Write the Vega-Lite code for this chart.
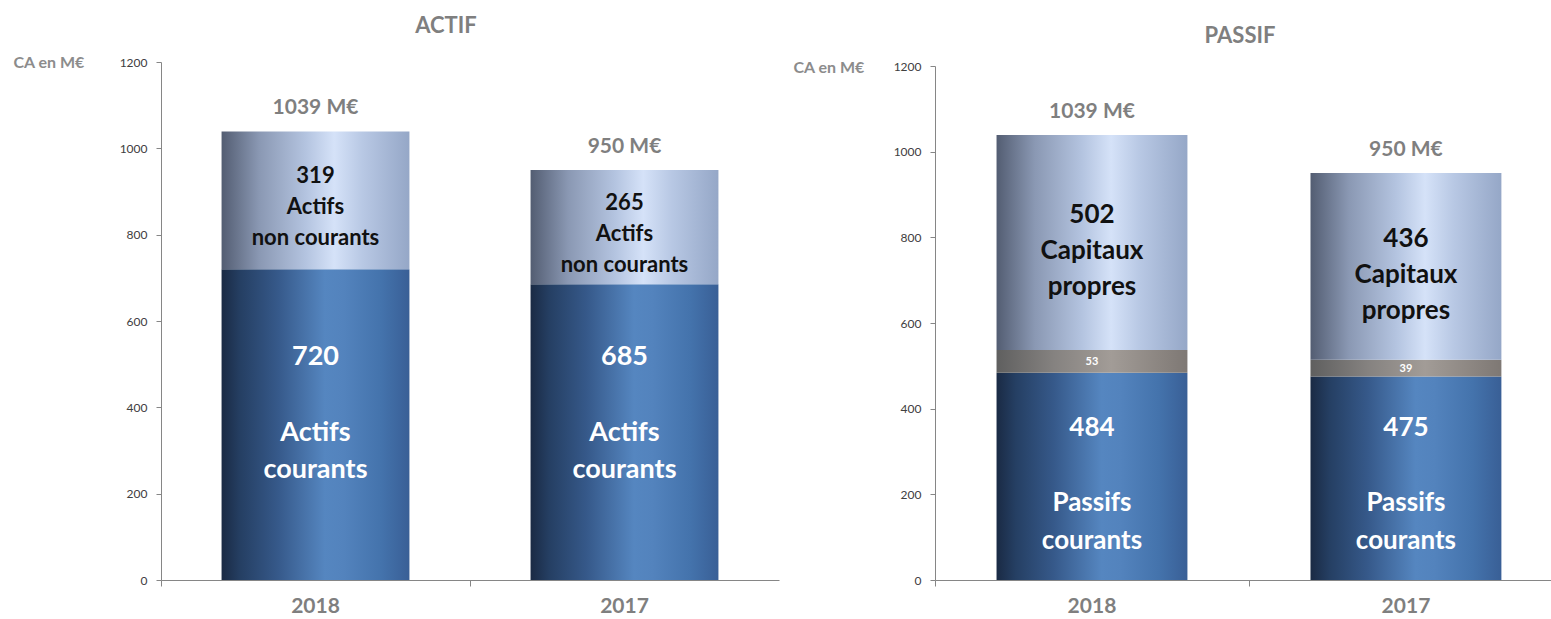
{
  "$schema": "https://vega.github.io/schema/vega-lite/v6.json",
  "padding": {"left": 13, "top": 15, "right": 0, "bottom": 0},
  "background": "white",
  "config": {"view": {"stroke": null}, "font": "Lato", "axis": {"grid": false}},
  "datasets": {
    "actif": [
      {"year": "2018", "segment": "Actifs courants", "order": 1, "value": 720, "label": "Actifs\ncourants"},
      {"year": "2018", "segment": "Actifs non courants", "order": 2, "value": 319, "label": "Actifs\nnon courants"},
      {"year": "2017", "segment": "Actifs courants", "order": 1, "value": 685, "label": "Actifs\ncourants"},
      {"year": "2017", "segment": "Actifs non courants", "order": 2, "value": 265, "label": "Actifs\nnon courants"}
    ],
    "actifTotal": [
      {"year": "2018", "total": 1039, "label": "1039 M€"},
      {"year": "2017", "total": 950, "label": "950 M€"}
    ],
    "passif": [
      {"year": "2018", "segment": "Passifs courants", "order": 1, "value": 484, "label": "Passifs\ncourants"},
      {"year": "2018", "segment": "Passifs non courants", "order": 2, "value": 53, "label": ""},
      {"year": "2018", "segment": "Capitaux propres", "order": 3, "value": 502, "label": "Capitaux\npropres"},
      {"year": "2017", "segment": "Passifs courants", "order": 1, "value": 475, "label": "Passifs\ncourants"},
      {"year": "2017", "segment": "Passifs non courants", "order": 2, "value": 39, "label": ""},
      {"year": "2017", "segment": "Capitaux propres", "order": 3, "value": 436, "label": "Capitaux\npropres"}
    ],
    "passifTotal": [
      {"year": "2018", "total": 1039, "label": "1039 M€"},
      {"year": "2017", "total": 950, "label": "950 M€"}
    ]
  },
  "spacing": 156,
  "bounds": "flush",
  "hconcat": [
    {
      "width": 618,
      "height": 518,
      "title": {"text": "ACTIF", "fontSize": 22, "fontWeight": "bold", "color": "#7f7f7f", "font": "Lato", "anchor": "middle", "frame": "group", "dx": -24, "offset": -1, "baseline": "alphabetic"},
      "encoding": {
        "x": {
          "field": "year", "type": "nominal", "sort": ["2018", "2017"], "title": null,
          "scale": {"paddingInner": 0, "paddingOuter": 0},
          "axis": {"domainColor": "#868686", "tickColor": "#868686", "bandPosition": 0, "tickSize": 6, "labelFontSize": 21, "labelFontWeight": "bold", "labelColor": "#7f7f7f", "labelPadding": 9, "labelAngle": 0, "labelFont": "Lato"}
        }
      },
      "layer": [
        {
          "data": {"name": "actif"},
          "transform": [
            {"stack": "value", "groupby": ["year"], "sort": [{"field": "order", "order": "ascending"}], "as": ["v0", "v1"]},
            {"filter": "datum.order == 1"}
          ],
          "mark": {"type": "bar", "width": {"band": 0.608}, "fill": {"gradient": "linear", "x1": 0, "x2": 1, "y1": 0, "y2": 0, "stops": [
            {"offset": 0, "color": "#1a2a44"}, {"offset": 0.1, "color": "#253f63"}, {"offset": 0.3, "color": "#36598a"},
            {"offset": 0.55, "color": "#5586c0"}, {"offset": 0.65, "color": "#5383bd"}, {"offset": 0.85, "color": "#4473ac"}, {"offset": 1, "color": "#395f96"}]}},
          "encoding": {
            "y": {"field": "v0", "type": "quantitative", "title": "CA en M€",
              "scale": {"domain": [0, 1200]},
              "axis": {"values": [0, 200, 400, 600, 800, 1000, 1200], "format": "d", "domainColor": "#868686", "tickColor": "#868686", "tickSize": 5, "labelFontSize": 12, "labelColor": "#404040", "labelPadding": 9, "labelFont": "Lato", "grid": false,
                "titleAngle": 0, "titleAlign": "left", "titleBaseline": "middle", "titleX": -148, "titleY": 0, "titleFontSize": 16, "titleFontWeight": "bold", "titleColor": "#8c8c8c", "titleFont": "Lato"}},
            "y2": {"field": "v1"}
          }
        },
        {
          "data": {"name": "actif"},
          "transform": [
            {"stack": "value", "groupby": ["year"], "sort": [{"field": "order", "order": "ascending"}], "as": ["v0", "v1"]},
            {"filter": "datum.order == 2"}
          ],
          "mark": {"type": "bar", "width": {"band": 0.608}, "fill": {"gradient": "linear", "x1": 0, "x2": 1, "y1": 0, "y2": 0, "stops": [
            {"offset": 0, "color": "#535d72"}, {"offset": 0.2, "color": "#8a98b3"}, {"offset": 0.45, "color": "#b4c4e0"},
            {"offset": 0.6, "color": "#d5e2f8"}, {"offset": 0.75, "color": "#b8c8e4"}, {"offset": 1, "color": "#95a7c7"}]}},
          "encoding": {
            "y": {"field": "v0", "type": "quantitative", "title": "CA en M€"},
            "y2": {"field": "v1"}
          }
        },
        {
          "data": {"name": "actif"},
          "transform": [
            {"stack": "value", "groupby": ["year"], "sort": [{"field": "order", "order": "ascending"}], "as": ["v0", "v1"]},
            {"filter": "datum.order == 1"}
          ],
          "mark": {"type": "text", "dy": -223, "fontSize": 27, "fontWeight": "bold", "color": "white", "baseline": "middle", "font": "Lato"},
          "encoding": {
            "y": {"field": "v0", "type": "quantitative", "title": "CA en M€"},
            "text": {"field": "value", "type": "quantitative"}
          }
        },
        {
          "data": {"name": "actif"},
          "transform": [
            {"stack": "value", "groupby": ["year"], "sort": [{"field": "order", "order": "ascending"}], "as": ["v0", "v1"]},
            {"filter": "datum.order == 1"}
          ],
          "mark": {"type": "text", "dy": -147, "fontSize": 27, "fontWeight": "bold", "color": "white", "baseline": "middle", "lineBreak": "\n", "lineHeight": 37, "font": "Lato"},
          "encoding": {
            "y": {"field": "v0", "type": "quantitative", "title": "CA en M€"},
            "text": {"field": "label", "type": "nominal"}
          }
        },
        {
          "data": {"name": "actif"},
          "transform": [
            {"stack": "value", "groupby": ["year"], "sort": [{"field": "order", "order": "ascending"}], "as": ["v0", "v1"]},
            {"filter": "datum.order == 2"},
            {"fold": ["v0", "v1"], "as": ["edge", "pos"]},
            {"aggregate": [{"op": "mean", "field": "pos", "as": "mid"}], "groupby": ["year", "order", "value", "label"]}
          ],
          "mark": {"type": "text", "dy": -24, "fontSize": 22, "fontWeight": "bold", "color": "#111111", "baseline": "middle", "font": "Lato"},
          "encoding": {
            "y": {"field": "mid", "type": "quantitative", "title": "CA en M€"},
            "text": {"field": "value", "type": "quantitative"}
          }
        },
        {
          "data": {"name": "actif"},
          "transform": [
            {"stack": "value", "groupby": ["year"], "sort": [{"field": "order", "order": "ascending"}], "as": ["v0", "v1"]},
            {"filter": "datum.order == 2"},
            {"fold": ["v0", "v1"], "as": ["edge", "pos"]},
            {"aggregate": [{"op": "mean", "field": "pos", "as": "mid"}], "groupby": ["year", "order", "value", "label"]}
          ],
          "mark": {"type": "text", "dy": 6.5, "fontSize": 22, "fontWeight": "bold", "color": "#111111", "baseline": "middle", "lineBreak": "\n", "lineHeight": 31, "font": "Lato"},
          "encoding": {
            "y": {"field": "mid", "type": "quantitative", "title": "CA en M€"},
            "text": {"field": "label", "type": "nominal"}
          }
        },
        {
          "data": {"name": "actifTotal"},
          "mark": {"type": "text", "dy": -23, "fontSize": 21, "fontWeight": "bold", "color": "#7f7f7f", "baseline": "middle", "font": "Lato"},
          "encoding": {
            "y": {"field": "total", "type": "quantitative", "title": "CA en M€"},
            "text": {"field": "label", "type": "nominal"}
          }
        }
      ]
    },
    {
      "width": 616,
      "height": 518,
      "title": {"text": "PASSIF", "fontSize": 22, "fontWeight": "bold", "color": "#7f7f7f", "font": "Lato", "anchor": "middle", "frame": "group", "dx": -3, "offset": -6, "baseline": "alphabetic"},
      "encoding": {
        "x": {
          "field": "year", "type": "nominal", "sort": ["2018", "2017"], "title": null,
          "scale": {"paddingInner": 0.076, "paddingOuter": 0.019, "align": 1},
          "axis": {"domainColor": "#868686", "tickColor": "#868686", "bandPosition": -0.041, "tickSize": 6, "labelFontSize": 21, "labelFontWeight": "bold", "labelColor": "#7f7f7f", "labelPadding": 9, "labelAngle": 0, "labelFont": "Lato"}
        }
      },
      "layer": [
        {
          "data": {"name": "passif"},
          "transform": [
            {"stack": "value", "groupby": ["year"], "sort": [{"field": "order", "order": "ascending"}], "as": ["v0", "v1"]},
            {"filter": "datum.order == 1"}
          ],
          "mark": {"type": "bar", "width": {"band": 0.658}, "fill": {"gradient": "linear", "x1": 0, "x2": 1, "y1": 0, "y2": 0, "stops": [
            {"offset": 0, "color": "#1a2a44"}, {"offset": 0.1, "color": "#253f63"}, {"offset": 0.3, "color": "#36598a"},
            {"offset": 0.55, "color": "#5586c0"}, {"offset": 0.65, "color": "#5383bd"}, {"offset": 0.85, "color": "#4473ac"}, {"offset": 1, "color": "#395f96"}]}},
          "encoding": {
            "y": {"field": "v0", "type": "quantitative", "title": "CA en M€",
              "scale": {"domain": [0, 1200], "range": [518, 4]},
              "axis": {"values": [0, 200, 400, 600, 800, 1000, 1200], "format": "d", "domainColor": "#868686", "tickColor": "#868686", "tickSize": 5, "labelFontSize": 12, "labelColor": "#404040", "labelPadding": 9, "labelFont": "Lato", "grid": false,
                "titleAngle": 0, "titleAlign": "left", "titleBaseline": "middle", "titleX": -142, "titleY": 5, "titleFontSize": 16, "titleFontWeight": "bold", "titleColor": "#8c8c8c", "titleFont": "Lato"}},
            "y2": {"field": "v1"}
          }
        },
        {
          "data": {"name": "passif"},
          "transform": [
            {"stack": "value", "groupby": ["year"], "sort": [{"field": "order", "order": "ascending"}], "as": ["v0", "v1"]},
            {"filter": "datum.order == 2"}
          ],
          "mark": {"type": "bar", "width": {"band": 0.658}, "fill": {"gradient": "linear", "x1": 0, "x2": 1, "y1": 0, "y2": 0, "stops": [
            {"offset": 0, "color": "#5f5f5f"}, {"offset": 0.3, "color": "#858280"}, {"offset": 0.6, "color": "#a29c97"}, {"offset": 1, "color": "#7e7874"}]}},
          "encoding": {
            "y": {"field": "v0", "type": "quantitative", "title": "CA en M€"},
            "y2": {"field": "v1"}
          }
        },
        {
          "data": {"name": "passif"},
          "transform": [
            {"stack": "value", "groupby": ["year"], "sort": [{"field": "order", "order": "ascending"}], "as": ["v0", "v1"]},
            {"filter": "datum.order == 3"}
          ],
          "mark": {"type": "bar", "width": {"band": 0.658}, "fill": {"gradient": "linear", "x1": 0, "x2": 1, "y1": 0, "y2": 0, "stops": [
            {"offset": 0, "color": "#535d72"}, {"offset": 0.2, "color": "#8a98b3"}, {"offset": 0.45, "color": "#b4c4e0"},
            {"offset": 0.6, "color": "#d5e2f8"}, {"offset": 0.75, "color": "#b8c8e4"}, {"offset": 1, "color": "#95a7c7"}]}},
          "encoding": {
            "y": {"field": "v0", "type": "quantitative", "title": "CA en M€"},
            "y2": {"field": "v1"}
          }
        },
        {
          "data": {"name": "passif"},
          "transform": [
            {"stack": "value", "groupby": ["year"], "sort": [{"field": "order", "order": "ascending"}], "as": ["v0", "v1"]},
            {"filter": "datum.order == 1"}
          ],
          "mark": {"type": "text", "dy": -152, "fontSize": 26, "fontWeight": "bold", "color": "white", "baseline": "middle", "font": "Lato"},
          "encoding": {
            "y": {"field": "v0", "type": "quantitative", "title": "CA en M€"},
            "text": {"field": "value", "type": "quantitative"}
          }
        },
        {
          "data": {"name": "passif"},
          "transform": [
            {"stack": "value", "groupby": ["year"], "sort": [{"field": "order", "order": "ascending"}], "as": ["v0", "v1"]},
            {"filter": "datum.order == 1"}
          ],
          "mark": {"type": "text", "dy": -77, "fontSize": 26, "fontWeight": "bold", "color": "white", "baseline": "middle", "lineBreak": "\n", "lineHeight": 37.5, "font": "Lato"},
          "encoding": {
            "y": {"field": "v0", "type": "quantitative", "title": "CA en M€"},
            "text": {"field": "label", "type": "nominal"}
          }
        },
        {
          "data": {"name": "passif"},
          "transform": [
            {"stack": "value", "groupby": ["year"], "sort": [{"field": "order", "order": "ascending"}], "as": ["v0", "v1"]},
            {"filter": "datum.order == 2"},
            {"fold": ["v0", "v1"], "as": ["edge", "pos"]},
            {"aggregate": [{"op": "mean", "field": "pos", "as": "mid"}], "groupby": ["year", "order", "value"]}
          ],
          "mark": {"type": "text", "dy": 1, "fontSize": 11, "fontWeight": "bold", "color": "white", "baseline": "middle", "font": "Lato"},
          "encoding": {
            "y": {"field": "mid", "type": "quantitative", "title": "CA en M€"},
            "text": {"field": "value", "type": "quantitative"}
          }
        },
        {
          "data": {"name": "passif"},
          "transform": [
            {"stack": "value", "groupby": ["year"], "sort": [{"field": "order", "order": "ascending"}], "as": ["v0", "v1"]},
            {"filter": "datum.order == 3"},
            {"fold": ["v0", "v1"], "as": ["edge", "pos"]},
            {"aggregate": [{"op": "mean", "field": "pos", "as": "mid"}], "groupby": ["year", "order", "value", "label"]}
          ],
          "mark": {"type": "text", "dy": -27, "fontSize": 26, "fontWeight": "bold", "color": "#111111", "baseline": "middle", "font": "Lato"},
          "encoding": {
            "y": {"field": "mid", "type": "quantitative", "title": "CA en M€"},
            "text": {"field": "value", "type": "quantitative"}
          }
        },
        {
          "data": {"name": "passif"},
          "transform": [
            {"stack": "value", "groupby": ["year"], "sort": [{"field": "order", "order": "ascending"}], "as": ["v0", "v1"]},
            {"filter": "datum.order == 3"},
            {"fold": ["v0", "v1"], "as": ["edge", "pos"]},
            {"aggregate": [{"op": "mean", "field": "pos", "as": "mid"}], "groupby": ["year", "order", "value", "label"]}
          ],
          "mark": {"type": "text", "dy": 9, "fontSize": 26, "fontWeight": "bold", "color": "#111111", "baseline": "middle", "lineBreak": "\n", "lineHeight": 36, "font": "Lato"},
          "encoding": {
            "y": {"field": "mid", "type": "quantitative", "title": "CA en M€"},
            "text": {"field": "label", "type": "nominal"}
          }
        },
        {
          "data": {"name": "passifTotal"},
          "mark": {"type": "text", "dy": -23, "fontSize": 21, "fontWeight": "bold", "color": "#7f7f7f", "baseline": "middle", "font": "Lato"},
          "encoding": {
            "y": {"field": "total", "type": "quantitative", "title": "CA en M€"},
            "text": {"field": "label", "type": "nominal"}
          }
        }
      ]
    }
  ]
}
